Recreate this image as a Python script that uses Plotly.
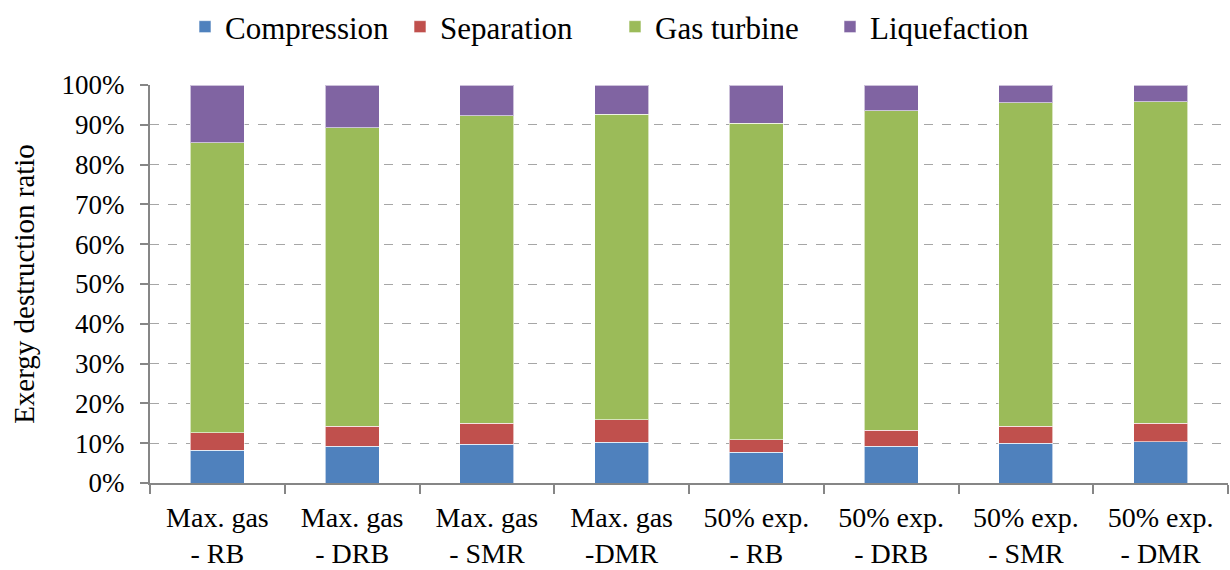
import plotly.graph_objects as go

categories = ["Max. gas<br>- RB", "Max. gas<br>- DRB", "Max. gas<br>- SMR", "Max. gas<br>-DMR",
              "50% exp.<br>- RB", "50% exp.<br>- DRB", "50% exp.<br>- SMR", "50% exp.<br>- DMR"]
compression = [8.2, 9.2, 9.7, 10.3, 7.7, 9.2, 10.0, 10.4]
separation = [4.4, 5.0, 5.3, 5.6, 3.2, 4.0, 4.3, 4.6]
gas_turbine = [72.9, 75.0, 77.3, 76.8, 79.5, 80.3, 81.2, 80.8]
liquefaction = [14.5, 10.8, 7.7, 7.3, 9.6, 6.5, 4.5, 4.2]

series = [("Compression", compression, "#4F81BD"),
          ("Separation", separation, "#C0504D"),
          ("Gas turbine", gas_turbine, "#9BBB59"),
          ("Liquefaction", liquefaction, "#8064A2")]

font_family = "Liberation Serif, Times New Roman, serif"

fig = go.Figure()
for name, vals, color in series:
    fig.add_trace(go.Bar(
        x=categories, y=[v / 100 for v in vals], name=name,
        marker=dict(color=color, line=dict(color="rgba(255,255,255,0.6)", width=1)),
    ))

fig.update_layout(
    barmode="stack",
    bargap=0.6,
    width=1230, height=570,
    margin=dict(l=150, r=2, t=85, b=87, autoexpand=False),
    paper_bgcolor="white", plot_bgcolor="white",
    font=dict(family=font_family, size=27, color="black"),
    legend=dict(orientation="h", x=0.5, xanchor="center", xref="container",
                y=1.0, yanchor="top", yref="container",
                font=dict(size=31), itemwidth=30, entrywidth=170,
                traceorder="normal", tracegroupgap=0),
    showlegend=True,
)

fig.update_yaxes(
    range=[0, 1], tickvals=[i / 10 for i in range(11)], tickformat=".0%",
    showgrid=True, gridcolor="#A6A6A6", griddash="dash", gridwidth=1,
    showline=True, linecolor="#868686", linewidth=2,
    ticks="outside", ticklen=8, tickcolor="#868686", tickwidth=2,
    tickfont=dict(size=27), ticklabelstandoff=10,
    title=dict(text="Exergy destruction ratio", font=dict(size=29), standoff=18),
    zeroline=False, automargin=False,
)
fig.update_xaxes(
    showline=True, linecolor="#868686", linewidth=2,
    ticks="outside", tickson="boundaries", ticklen=9, tickcolor="#868686", tickwidth=2,
    tickfont=dict(size=28), automargin=False, ticklabelstandoff=8,
)

fig.write_html("out.html", config={"displayModeBar": False},
               post_script="document.body.style.margin='0';")
